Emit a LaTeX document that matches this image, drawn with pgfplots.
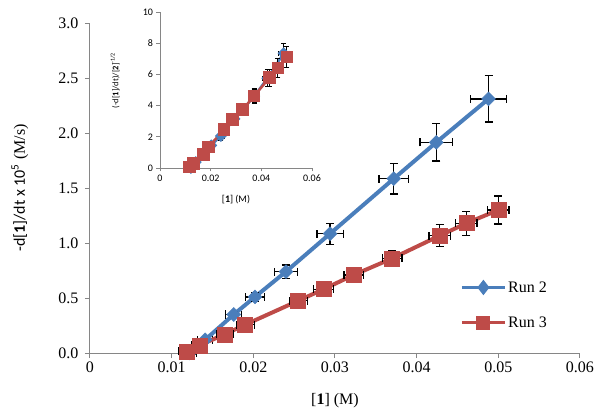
\documentclass[border=0pt]{standalone}
\usepackage{fontspec}
\setmainfont{Liberation Serif}
\newfontfamily\calfont{Carlito}
\usepackage{pgfplots}
\pgfplotsset{compat=1.18}
\definecolor{blue2}{HTML}{4A7EBB}
\definecolor{red2}{HTML}{BE4B48}
\definecolor{axgray}{HTML}{868686}

\pgfplotstableread{
x y ex ey
0.0122 0.00 0.0008 0.01
0.0141 0.12 0.0009 0.02
0.0176 0.35 0.0010 0.03
0.0202 0.51 0.0012 0.04
0.0240 0.74 0.0014 0.06
0.0294 1.085 0.0016 0.095
0.0372 1.585 0.0018 0.14
0.0424 1.915 0.0020 0.17
0.0488 2.31 0.0022 0.21
}\runtwo
\pgfplotstableread{
x y ex ey
0.0119 0.015 0.0010 0.01
0.0134 0.07 0.0010 0.015
0.0165 0.17 0.0010 0.02
0.0190 0.257 0.0011 0.025
0.0255 0.475 0.0011 0.03
0.0286 0.58 0.0012 0.04
0.0323 0.71 0.0012 0.05
0.0370 0.86 0.0012 0.07
0.0428 1.066 0.0013 0.10
0.0461 1.18 0.0013 0.11
0.0500 1.30 0.0013 0.127
}\runthree
\pgfplotstableread{
x y ex ey
0.0122 0.00 0.0008 0.1
0.0141 0.38 0.0009 0.15
0.0176 1.00 0.0010 0.2
0.0202 1.45 0.0012 0.25
0.0240 2.05 0.0014 0.3
0.0294 3.15 0.0016 0.35
0.0372 4.60 0.0018 0.45
0.0424 5.75 0.0020 0.55
0.0488 7.35 0.0022 0.6
}\insettwo
\pgfplotstableread{
x y ex ey
0.0116 0.06 0.0008 0.1
0.0132 0.28 0.0008 0.12
0.0171 0.88 0.0009 0.15
0.0191 1.35 0.0010 0.2
0.0253 2.46 0.0010 0.25
0.0287 3.10 0.0011 0.3
0.0326 3.74 0.0011 0.35
0.0372 4.62 0.0012 0.45
0.0432 5.79 0.0013 0.55
0.0465 6.41 0.0013 0.6
0.0501 7.12 0.0013 0.7
}\insetthree

\begin{document}
\begin{tikzpicture}
\useasboundingbox (-90bp,-62bp) rectangle (512bp,353bp);
\begin{axis}[
  at={(0bp,0bp)}, anchor=south west, scale only axis,
  width=490bp, height=330bp,
  xmin=0, xmax=0.06, ymin=0, ymax=3,
  clip=false,
  axis lines*=left,
  axis line style={axgray, line width=1bp},
  tick style={axgray, line width=1bp},
  tick align=outside, major tick length=5bp,
  xtick={0,0.01,0.02,0.03,0.04,0.05,0.06},
  ytick={0,0.5,1,1.5,2,2.5,3},
  scaled x ticks=false, scaled y ticks=false,
  xticklabel style={/pgf/number format/fixed, /pgf/number format/precision=2},
  yticklabel style={/pgf/number format/fixed, /pgf/number format/fixed zerofill, /pgf/number format/precision=1, xshift=-3bp},
  /pgf/number format/assume math mode=true,
  ticklabel style={font=\fontsize{16bp}{19bp}\selectfont, text=black},
  xlabel={[\textbf{1}] (M)},
  xlabel style={font=\fontsize{16bp}{19bp}\selectfont, at={(axis description cs:0.5,-0.145)}, anchor=center},
  ylabel={{\calfont -d[\textbf{1}]/dt x 10\textsuperscript{5}} (M/s)},
  ylabel style={font=\fontsize{16bp}{19bp}\selectfont, at={(axis description cs:-0.143,0.5)}, anchor=center},
  legend style={draw=none, fill=none, at={(0.755,0.222)}, anchor=north west,
    font=\fontsize{16bp}{19bp}\selectfont, row sep=20bp, inner sep=0bp,
    nodes={inner sep=1.5bp}},
  legend cell align=left,
]
\addplot[blue2, line width=4bp, mark=square*, mark size=4.9bp, mark options={rotate=45, fill=blue2, draw=blue2, line width=0.5bp},
  legend image code/.code={\draw[blue2, line width=3.5bp] (0bp,0bp) -- (43bp,0bp);
    \fill[blue2] (21.5bp,4.5bp) -- (25bp,0bp) -- (21.5bp,-4.5bp) -- (18bp,0bp) -- cycle;}]
  table[x=x, y=y] {\runtwo};
\addlegendentry{Run 2}
\addplot[draw=none, forget plot, error bars/.cd, x dir=both, x explicit, y dir=both, y explicit,
  error bar style={black, line width=1.2bp}, error mark options={rotate=90, black, line width=1.2bp, mark size=4bp}]
  table[x=x, y=y, x error=ex, y error=ey] {\runtwo};
\addplot[red2, line width=4bp, mark=square*, mark size=7.5bp, mark options={fill=red2, draw=red2, line width=0.5bp},
  legend image code/.code={\draw[red2, line width=3.5bp] (0bp,0bp) -- (43bp,0bp);
    \fill[red2] (16.5bp,-5bp) rectangle (26.5bp,5bp);}]
  table[x=x, y=y] {\runthree};
\addlegendentry{Run 3}
\addplot[draw=none, forget plot, error bars/.cd, x dir=both, x explicit, y dir=both, y explicit,
  error bar style={black, line width=1.2bp}, error mark options={rotate=90, black, line width=1.2bp, mark size=4bp}]
  table[x=x, y=y, x error=ex, y error=ey] {\runthree};
\end{axis}

\begin{axis}[
  at={(70bp,185bp)}, anchor=south west, scale only axis,
  width=152bp, height=156bp,
  xmin=0, xmax=0.06, ymin=0, ymax=10,
  axis lines*=left,
  axis line style={axgray, line width=0.8bp},
  tick style={axgray, line width=0.8bp},
  tick align=outside, major tick length=3.5bp,
  xtick={0,0.02,0.04,0.06},
  ytick={0,2,4,6,8,10},
  scaled x ticks=false,
  xticklabel style={/pgf/number format/fixed, /pgf/number format/precision=2},
  /pgf/number format/assume math mode=true,
  ticklabel style={font=\calfont\fontsize{10bp}{12bp}\selectfont, text=black},
  xlabel={[\textbf{1}] (M)},
  xlabel style={font=\calfont\fontsize{10bp}{12bp}\selectfont, at={(axis description cs:0.5,-0.205)}, anchor=center},
  ylabel={(-d[\textbf{1}]/dt)/[\textbf{2}]\textsuperscript{-1/2}},
  ylabel style={font=\calfont\fontsize{8.5bp}{10bp}\selectfont, at={(axis description cs:-0.296,0.56)}, anchor=center},
]
\addplot[blue2, line width=2.5bp, mark=square*, mark size=3bp, mark options={rotate=45, fill=blue2, draw=blue2}]
  table[x=x, y=y] {\insettwo};
\addplot[draw=none, error bars/.cd, x dir=both, x explicit, y dir=both, y explicit,
  error bar style={black, line width=1bp}, error mark options={rotate=90, black, line width=1bp, mark size=2.5bp}]
  table[x=x, y=y, x error=ex, y error=ey] {\insettwo};
\addplot[red2, line width=2.5bp, mark=square*, mark size=5bp, mark options={fill=red2, draw=red2}]
  table[x=x, y=y] {\insetthree};
\addplot[draw=none, error bars/.cd, x dir=both, x explicit, y dir=both, y explicit,
  error bar style={black, line width=1bp}, error mark options={rotate=90, black, line width=1bp, mark size=2.5bp}]
  table[x=x, y=y, x error=ex, y error=ey] {\insetthree};
\end{axis}
\end{tikzpicture}
\end{document}
